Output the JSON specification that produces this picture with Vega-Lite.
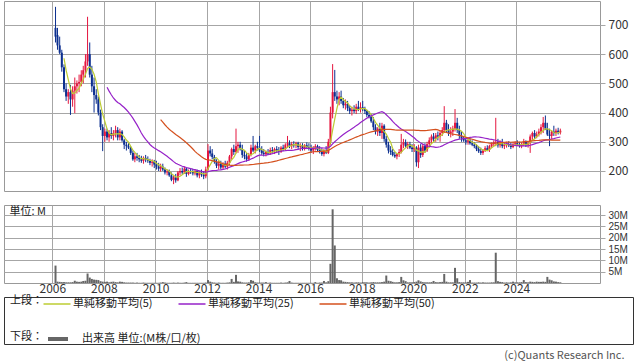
{
"$schema": "https://vega.github.io/schema/vega-lite/v6.json",
"padding": {"left": 3, "top": 0, "right": 0, "bottom": 0},
"background": "white",
"config": {
  "font": "Noto Sans CJK JP",
  "view": {"stroke": "#999999", "strokeWidth": 1},
  "axis": {"gridColor": "#a6a6a6", "gridWidth": 1, "labelColor": "#333333", "domain": false, "title": null, "labelFont": "Noto Sans CJK JP", "labelOverlap": false}
},
"title": {"text": "(c)Quants Research Inc.", "orient": "bottom", "anchor": "end", "fontSize": 11, "fontWeight": "normal", "color": "#555555", "offset": 3, "dx": -9},
"datasets": {"px": [
{"d":"2006-02-15","o":690,"h":762,"l":640,"c":660,"v":7.7},
{"d":"2006-03-15","o":665,"h":690,"l":615,"c":630,"v":0.6},
{"d":"2006-04-15","o":630,"h":660,"l":600,"c":605,"v":0.5},
{"d":"2006-05-15","o":605,"h":615,"l":540,"c":555,"v":0.4},
{"d":"2006-06-15","o":555,"h":565,"l":470,"c":480,"v":0.4},
{"d":"2006-07-15","o":480,"h":500,"l":440,"c":455,"v":0.3},
{"d":"2006-08-15","o":455,"h":480,"l":430,"c":470,"v":0.3},
{"d":"2006-09-15","o":470,"h":495,"l":392,"c":445,"v":0.3},
{"d":"2006-10-15","o":445,"h":490,"l":420,"c":475,"v":0.4},
{"d":"2006-11-15","o":475,"h":520,"l":398,"c":490,"v":1.0},
{"d":"2006-12-15","o":490,"h":510,"l":465,"c":500,"v":0.6},
{"d":"2007-01-15","o":500,"h":530,"l":470,"c":505,"v":0.5},
{"d":"2007-02-15","o":505,"h":545,"l":490,"c":530,"v":0.6},
{"d":"2007-03-15","o":530,"h":560,"l":500,"c":545,"v":0.9},
{"d":"2007-04-15","o":545,"h":600,"l":520,"c":575,"v":1.0},
{"d":"2007-05-15","o":575,"h":728,"l":560,"c":600,"v":4.2},
{"d":"2007-06-15","o":600,"h":640,"l":520,"c":530,"v":2.4},
{"d":"2007-07-15","o":530,"h":560,"l":470,"c":490,"v":1.8},
{"d":"2007-08-15","o":490,"h":520,"l":400,"c":460,"v":1.5},
{"d":"2007-09-15","o":460,"h":480,"l":430,"c":445,"v":1.4},
{"d":"2007-10-15","o":445,"h":455,"l":390,"c":400,"v":1.3},
{"d":"2007-11-15","o":400,"h":410,"l":340,"c":350,"v":0.8},
{"d":"2007-12-15","o":350,"h":360,"l":268,"c":320,"v":0.6},
{"d":"2008-01-15","o":320,"h":345,"l":300,"c":335,"v":0.5},
{"d":"2008-02-15","o":335,"h":345,"l":305,"c":315,"v":0.6},
{"d":"2008-03-15","o":315,"h":340,"l":300,"c":330,"v":0.3},
{"d":"2008-04-15","o":330,"h":350,"l":310,"c":320,"v":0.5},
{"d":"2008-05-15","o":320,"h":340,"l":305,"c":330,"v":0.6},
{"d":"2008-06-15","o":330,"h":355,"l":315,"c":340,"v":0.4},
{"d":"2008-07-15","o":340,"h":350,"l":305,"c":315,"v":0.3},
{"d":"2008-08-15","o":315,"h":345,"l":305,"c":335,"v":0.6},
{"d":"2008-09-15","o":335,"h":340,"l":300,"c":305,"v":0.5},
{"d":"2008-10-15","o":305,"h":310,"l":275,"c":290,"v":0.3},
{"d":"2008-11-15","o":290,"h":300,"l":270,"c":285,"v":0.2},
{"d":"2008-12-15","o":285,"h":295,"l":275,"c":280,"v":0.2},
{"d":"2009-01-15","o":280,"h":285,"l":255,"c":262,"v":0.2},
{"d":"2009-02-15","o":262,"h":270,"l":235,"c":240,"v":0.2},
{"d":"2009-03-15","o":240,"h":262,"l":230,"c":250,"v":0.1},
{"d":"2009-04-15","o":250,"h":262,"l":235,"c":245,"v":0.2},
{"d":"2009-05-15","o":245,"h":255,"l":230,"c":240,"v":0.1},
{"d":"2009-06-15","o":240,"h":252,"l":228,"c":235,"v":0.1},
{"d":"2009-07-15","o":235,"h":250,"l":225,"c":245,"v":0.2},
{"d":"2009-08-15","o":245,"h":255,"l":230,"c":240,"v":0.1},
{"d":"2009-09-15","o":240,"h":250,"l":228,"c":235,"v":0.1},
{"d":"2009-10-15","o":235,"h":242,"l":220,"c":228,"v":0.1},
{"d":"2009-11-15","o":228,"h":240,"l":215,"c":232,"v":0.1},
{"d":"2009-12-15","o":232,"h":238,"l":210,"c":222,"v":0.1},
{"d":"2010-01-15","o":222,"h":235,"l":205,"c":215,"v":0.1},
{"d":"2010-02-15","o":215,"h":228,"l":200,"c":208,"v":0.1},
{"d":"2010-03-15","o":208,"h":225,"l":198,"c":215,"v":0.2},
{"d":"2010-04-15","o":215,"h":225,"l":200,"c":205,"v":0.4},
{"d":"2010-05-15","o":205,"h":212,"l":188,"c":195,"v":0.2},
{"d":"2010-06-15","o":195,"h":205,"l":185,"c":198,"v":0.1},
{"d":"2010-07-15","o":198,"h":205,"l":180,"c":185,"v":0.1},
{"d":"2010-08-15","o":185,"h":195,"l":165,"c":170,"v":0.1},
{"d":"2010-09-15","o":170,"h":185,"l":155,"c":178,"v":0.2},
{"d":"2010-10-15","o":178,"h":190,"l":160,"c":168,"v":0.1},
{"d":"2010-11-15","o":168,"h":200,"l":165,"c":195,"v":0.2},
{"d":"2010-12-15","o":195,"h":210,"l":185,"c":200,"v":0.1},
{"d":"2011-01-15","o":200,"h":212,"l":188,"c":195,"v":0.1},
{"d":"2011-02-15","o":195,"h":215,"l":190,"c":208,"v":0.2},
{"d":"2011-03-15","o":208,"h":212,"l":180,"c":190,"v":0.4},
{"d":"2011-04-15","o":190,"h":205,"l":185,"c":200,"v":0.1},
{"d":"2011-05-15","o":200,"h":210,"l":190,"c":198,"v":0.1},
{"d":"2011-06-15","o":198,"h":208,"l":185,"c":192,"v":0.1},
{"d":"2011-07-15","o":192,"h":205,"l":185,"c":200,"v":0.1},
{"d":"2011-08-15","o":200,"h":205,"l":178,"c":185,"v":0.1},
{"d":"2011-09-15","o":185,"h":200,"l":175,"c":195,"v":0.1},
{"d":"2011-10-15","o":195,"h":205,"l":180,"c":188,"v":0.1},
{"d":"2011-11-15","o":188,"h":200,"l":172,"c":182,"v":0.1},
{"d":"2011-12-15","o":182,"h":215,"l":175,"c":205,"v":0.2},
{"d":"2012-01-15","o":205,"h":292,"l":200,"c":270,"v":1.3},
{"d":"2012-02-15","o":270,"h":285,"l":250,"c":260,"v":0.6},
{"d":"2012-03-15","o":260,"h":275,"l":240,"c":248,"v":0.3},
{"d":"2012-04-15","o":248,"h":255,"l":225,"c":232,"v":0.2},
{"d":"2012-05-15","o":232,"h":240,"l":210,"c":218,"v":0.1},
{"d":"2012-06-15","o":218,"h":235,"l":205,"c":225,"v":0.2},
{"d":"2012-07-15","o":225,"h":235,"l":205,"c":212,"v":0.1},
{"d":"2012-08-15","o":212,"h":230,"l":205,"c":225,"v":0.1},
{"d":"2012-09-15","o":225,"h":235,"l":210,"c":215,"v":0.1},
{"d":"2012-10-15","o":215,"h":235,"l":205,"c":228,"v":0.2},
{"d":"2012-11-15","o":228,"h":255,"l":220,"c":250,"v":0.3},
{"d":"2012-12-15","o":250,"h":280,"l":240,"c":275,"v":1.8},
{"d":"2013-01-15","o":275,"h":290,"l":255,"c":265,"v":0.5},
{"d":"2013-02-15","o":265,"h":345,"l":260,"c":285,"v":3.6},
{"d":"2013-03-15","o":285,"h":300,"l":262,"c":290,"v":0.7},
{"d":"2013-04-15","o":290,"h":300,"l":270,"c":275,"v":0.6},
{"d":"2013-05-15","o":275,"h":290,"l":245,"c":255,"v":0.3},
{"d":"2013-06-15","o":255,"h":270,"l":240,"c":250,"v":0.2},
{"d":"2013-07-15","o":250,"h":262,"l":232,"c":240,"v":0.2},
{"d":"2013-08-15","o":240,"h":262,"l":235,"c":255,"v":0.3},
{"d":"2013-09-15","o":255,"h":290,"l":250,"c":280,"v":1.3},
{"d":"2013-10-15","o":280,"h":320,"l":265,"c":270,"v":1.0},
{"d":"2013-11-15","o":270,"h":290,"l":260,"c":285,"v":0.3},
{"d":"2013-12-15","o":285,"h":300,"l":270,"c":280,"v":0.2},
{"d":"2014-01-15","o":280,"h":320,"l":265,"c":270,"v":0.2},
{"d":"2014-02-15","o":270,"h":285,"l":255,"c":262,"v":0.2},
{"d":"2014-03-15","o":262,"h":275,"l":250,"c":258,"v":0.2},
{"d":"2014-04-15","o":258,"h":270,"l":250,"c":265,"v":0.4},
{"d":"2014-05-15","o":265,"h":275,"l":255,"c":260,"v":0.1},
{"d":"2014-06-15","o":260,"h":280,"l":255,"c":272,"v":0.2},
{"d":"2014-07-15","o":272,"h":282,"l":262,"c":268,"v":0.1},
{"d":"2014-08-15","o":268,"h":280,"l":258,"c":275,"v":0.1},
{"d":"2014-09-15","o":275,"h":285,"l":265,"c":270,"v":0.1},
{"d":"2014-10-15","o":270,"h":282,"l":255,"c":265,"v":0.1},
{"d":"2014-11-15","o":265,"h":285,"l":262,"c":280,"v":0.2},
{"d":"2014-12-15","o":280,"h":290,"l":268,"c":275,"v":0.1},
{"d":"2015-01-15","o":275,"h":295,"l":270,"c":290,"v":0.2},
{"d":"2015-02-15","o":290,"h":320,"l":280,"c":295,"v":0.3},
{"d":"2015-03-15","o":295,"h":305,"l":278,"c":285,"v":0.9},
{"d":"2015-04-15","o":285,"h":300,"l":275,"c":292,"v":0.2},
{"d":"2015-05-15","o":292,"h":302,"l":280,"c":288,"v":0.1},
{"d":"2015-06-15","o":288,"h":300,"l":278,"c":295,"v":0.1},
{"d":"2015-07-15","o":295,"h":300,"l":275,"c":282,"v":0.1},
{"d":"2015-08-15","o":282,"h":295,"l":268,"c":285,"v":0.1},
{"d":"2015-09-15","o":285,"h":295,"l":270,"c":278,"v":0.1},
{"d":"2015-10-15","o":278,"h":292,"l":270,"c":288,"v":0.1},
{"d":"2015-11-15","o":288,"h":298,"l":275,"c":282,"v":0.1},
{"d":"2015-12-15","o":282,"h":295,"l":270,"c":278,"v":0.1},
{"d":"2016-01-15","o":278,"h":290,"l":262,"c":270,"v":0.1},
{"d":"2016-02-15","o":270,"h":285,"l":258,"c":280,"v":0.1},
{"d":"2016-03-15","o":280,"h":292,"l":270,"c":285,"v":0.4},
{"d":"2016-04-15","o":285,"h":290,"l":265,"c":272,"v":0.1},
{"d":"2016-05-15","o":272,"h":285,"l":260,"c":265,"v":0.2},
{"d":"2016-06-15","o":265,"h":278,"l":252,"c":258,"v":0.2},
{"d":"2016-07-15","o":258,"h":275,"l":250,"c":268,"v":0.9},
{"d":"2016-08-15","o":268,"h":285,"l":258,"c":262,"v":0.3},
{"d":"2016-09-15","o":262,"h":310,"l":258,"c":300,"v":0.8},
{"d":"2016-10-15","o":300,"h":420,"l":290,"c":400,"v":8.5},
{"d":"2016-11-15","o":400,"h":566,"l":380,"c":470,"v":32.6},
{"d":"2016-12-15","o":470,"h":546,"l":440,"c":455,"v":16.6},
{"d":"2017-01-15","o":455,"h":475,"l":430,"c":445,"v":2.1},
{"d":"2017-02-15","o":445,"h":470,"l":425,"c":455,"v":1.3},
{"d":"2017-03-15","o":455,"h":475,"l":430,"c":440,"v":1.2},
{"d":"2017-04-15","o":440,"h":450,"l":415,"c":425,"v":0.6},
{"d":"2017-05-15","o":425,"h":445,"l":410,"c":430,"v":0.5},
{"d":"2017-06-15","o":430,"h":440,"l":405,"c":415,"v":0.4},
{"d":"2017-07-15","o":415,"h":425,"l":395,"c":405,"v":0.3},
{"d":"2017-08-15","o":405,"h":420,"l":390,"c":410,"v":0.3},
{"d":"2017-09-15","o":410,"h":425,"l":398,"c":405,"v":0.2},
{"d":"2017-10-15","o":405,"h":430,"l":395,"c":420,"v":0.3},
{"d":"2017-11-15","o":420,"h":440,"l":405,"c":412,"v":0.3},
{"d":"2017-12-15","o":412,"h":435,"l":400,"c":418,"v":0.2},
{"d":"2018-01-15","o":418,"h":440,"l":405,"c":412,"v":0.4},
{"d":"2018-02-15","o":412,"h":420,"l":395,"c":405,"v":0.3},
{"d":"2018-03-15","o":405,"h":410,"l":385,"c":392,"v":0.3},
{"d":"2018-04-15","o":392,"h":405,"l":380,"c":385,"v":0.2},
{"d":"2018-05-15","o":385,"h":395,"l":365,"c":370,"v":0.3},
{"d":"2018-06-15","o":370,"h":385,"l":340,"c":350,"v":0.4},
{"d":"2018-07-15","o":350,"h":360,"l":325,"c":335,"v":0.3},
{"d":"2018-08-15","o":335,"h":350,"l":320,"c":345,"v":0.3},
{"d":"2018-09-15","o":345,"h":365,"l":320,"c":330,"v":0.3},
{"d":"2018-10-15","o":330,"h":365,"l":310,"c":355,"v":0.4},
{"d":"2018-11-15","o":355,"h":360,"l":300,"c":310,"v":0.6},
{"d":"2018-12-15","o":310,"h":320,"l":280,"c":290,"v":3.3},
{"d":"2019-01-15","o":290,"h":300,"l":260,"c":270,"v":1.0},
{"d":"2019-02-15","o":270,"h":285,"l":255,"c":265,"v":0.8},
{"d":"2019-03-15","o":265,"h":275,"l":250,"c":255,"v":0.5},
{"d":"2019-04-15","o":255,"h":265,"l":245,"c":250,"v":0.3},
{"d":"2019-05-15","o":250,"h":262,"l":240,"c":258,"v":0.3},
{"d":"2019-06-15","o":258,"h":275,"l":248,"c":265,"v":0.4},
{"d":"2019-07-15","o":265,"h":327,"l":260,"c":290,"v":2.7},
{"d":"2019-08-15","o":290,"h":310,"l":278,"c":298,"v":1.2},
{"d":"2019-09-15","o":298,"h":308,"l":280,"c":285,"v":0.8},
{"d":"2019-10-15","o":285,"h":300,"l":275,"c":292,"v":0.3},
{"d":"2019-11-15","o":292,"h":300,"l":275,"c":280,"v":0.3},
{"d":"2019-12-15","o":280,"h":292,"l":265,"c":275,"v":0.3},
{"d":"2020-01-15","o":275,"h":292,"l":265,"c":280,"v":0.4},
{"d":"2020-02-15","o":280,"h":285,"l":215,"c":230,"v":0.6},
{"d":"2020-03-15","o":230,"h":290,"l":210,"c":280,"v":1.2},
{"d":"2020-04-15","o":280,"h":292,"l":245,"c":255,"v":0.7},
{"d":"2020-05-15","o":255,"h":292,"l":248,"c":285,"v":0.4},
{"d":"2020-06-15","o":285,"h":295,"l":262,"c":270,"v":0.3},
{"d":"2020-07-15","o":270,"h":300,"l":265,"c":292,"v":0.3},
{"d":"2020-08-15","o":292,"h":315,"l":285,"c":305,"v":0.3},
{"d":"2020-09-15","o":305,"h":325,"l":295,"c":318,"v":0.4},
{"d":"2020-10-15","o":318,"h":330,"l":300,"c":310,"v":0.9},
{"d":"2020-11-15","o":310,"h":330,"l":300,"c":322,"v":0.4},
{"d":"2020-12-15","o":322,"h":335,"l":305,"c":318,"v":0.3},
{"d":"2021-01-15","o":318,"h":340,"l":300,"c":330,"v":0.4},
{"d":"2021-02-15","o":330,"h":350,"l":320,"c":340,"v":0.5},
{"d":"2021-03-15","o":340,"h":422,"l":330,"c":365,"v":4.0},
{"d":"2021-04-15","o":365,"h":375,"l":330,"c":340,"v":0.6},
{"d":"2021-05-15","o":340,"h":360,"l":320,"c":330,"v":0.3},
{"d":"2021-06-15","o":330,"h":350,"l":315,"c":335,"v":0.3},
{"d":"2021-07-15","o":335,"h":355,"l":320,"c":345,"v":0.3},
{"d":"2021-08-15","o":345,"h":412,"l":335,"c":365,"v":6.7},
{"d":"2021-09-15","o":365,"h":382,"l":330,"c":340,"v":2.1},
{"d":"2021-10-15","o":340,"h":355,"l":310,"c":320,"v":0.4},
{"d":"2021-11-15","o":320,"h":335,"l":300,"c":312,"v":0.3},
{"d":"2021-12-15","o":312,"h":320,"l":300,"c":305,"v":0.3},
{"d":"2022-01-15","o":305,"h":315,"l":290,"c":300,"v":0.3},
{"d":"2022-02-15","o":300,"h":315,"l":290,"c":305,"v":0.5},
{"d":"2022-03-15","o":305,"h":312,"l":290,"c":295,"v":1.3},
{"d":"2022-04-15","o":295,"h":305,"l":285,"c":290,"v":0.2},
{"d":"2022-05-15","o":290,"h":298,"l":278,"c":285,"v":0.2},
{"d":"2022-06-15","o":285,"h":292,"l":268,"c":275,"v":0.2},
{"d":"2022-07-15","o":275,"h":285,"l":262,"c":268,"v":0.3},
{"d":"2022-08-15","o":268,"h":280,"l":255,"c":262,"v":0.2},
{"d":"2022-09-15","o":262,"h":275,"l":255,"c":270,"v":0.3},
{"d":"2022-10-15","o":270,"h":285,"l":265,"c":278,"v":0.2},
{"d":"2022-11-15","o":278,"h":288,"l":268,"c":272,"v":0.2},
{"d":"2022-12-15","o":272,"h":290,"l":265,"c":285,"v":0.2},
{"d":"2023-01-15","o":285,"h":298,"l":278,"c":292,"v":0.3},
{"d":"2023-02-15","o":292,"h":305,"l":285,"c":298,"v":0.3},
{"d":"2023-03-15","o":298,"h":382,"l":285,"c":300,"v":13.4},
{"d":"2023-04-15","o":300,"h":310,"l":280,"c":288,"v":0.8},
{"d":"2023-05-15","o":288,"h":305,"l":280,"c":295,"v":0.5},
{"d":"2023-06-15","o":295,"h":310,"l":278,"c":285,"v":0.4},
{"d":"2023-07-15","o":285,"h":298,"l":275,"c":290,"v":0.2},
{"d":"2023-08-15","o":290,"h":300,"l":280,"c":292,"v":0.3},
{"d":"2023-09-15","o":292,"h":302,"l":282,"c":288,"v":0.2},
{"d":"2023-10-15","o":288,"h":298,"l":275,"c":282,"v":0.3},
{"d":"2023-11-15","o":282,"h":298,"l":278,"c":292,"v":0.6},
{"d":"2023-12-15","o":292,"h":302,"l":285,"c":295,"v":0.3},
{"d":"2024-01-15","o":295,"h":305,"l":285,"c":290,"v":0.3},
{"d":"2024-02-15","o":290,"h":300,"l":280,"c":285,"v":0.3},
{"d":"2024-03-15","o":285,"h":298,"l":278,"c":292,"v":0.4},
{"d":"2024-04-15","o":292,"h":310,"l":285,"c":300,"v":1.3},
{"d":"2024-05-15","o":300,"h":305,"l":282,"c":288,"v":0.4},
{"d":"2024-06-15","o":288,"h":300,"l":280,"c":295,"v":0.3},
{"d":"2024-07-15","o":295,"h":325,"l":262,"c":318,"v":0.6},
{"d":"2024-08-15","o":318,"h":335,"l":305,"c":330,"v":0.5},
{"d":"2024-09-15","o":330,"h":340,"l":310,"c":318,"v":0.4},
{"d":"2024-10-15","o":318,"h":335,"l":312,"c":325,"v":0.6},
{"d":"2024-11-15","o":325,"h":345,"l":318,"c":335,"v":0.5},
{"d":"2024-12-15","o":335,"h":360,"l":325,"c":350,"v":0.5},
{"d":"2025-01-15","o":350,"h":385,"l":330,"c":365,"v":0.6},
{"d":"2025-02-15","o":365,"h":390,"l":340,"c":345,"v":0.5},
{"d":"2025-03-15","o":345,"h":365,"l":320,"c":325,"v":2.7},
{"d":"2025-04-15","o":325,"h":345,"l":285,"c":320,"v":1.5},
{"d":"2025-05-15","o":320,"h":340,"l":310,"c":335,"v":1.2},
{"d":"2025-06-15","o":335,"h":355,"l":320,"c":330,"v":0.7},
{"d":"2025-07-15","o":330,"h":345,"l":320,"c":338,"v":0.6},
{"d":"2025-08-15","o":338,"h":348,"l":325,"c":332,"v":0.4},
{"d":"2025-09-15","o":332,"h":345,"l":325,"c":338,"v":0.3}
]},
"vconcat": [
  {
    "spacing": 12,
    "vconcat": [
      {
        "width": 596, "height": 190,
        "data": {"name": "px"},
        "transform": [
          {"window": [{"op": "mean", "field": "c", "as": "m5"}, {"op": "count", "as": "n5"}], "frame": [-4, 0], "sort": [{"field": "d"}]},
          {"window": [{"op": "mean", "field": "c", "as": "m25"}, {"op": "count", "as": "n25"}], "frame": [-24, 0], "sort": [{"field": "d"}]},
          {"window": [{"op": "mean", "field": "c", "as": "m50"}, {"op": "count", "as": "n50"}], "frame": [-49, 0], "sort": [{"field": "d"}]}
        ],
        "encoding": {
          "x": {"field": "d", "type": "temporal",
            "scale": {"type": "utc", "domain": [{"year": 2004, "month": 4, "date": 27, "utc": true}, {"year": 2027, "month": 1, "date": 19, "utc": true}]},
            "axis": {"grid": true, "labels": false, "ticks": false,
              "values": [{"year": 2006, "utc": true}, {"year": 2008, "utc": true}, {"year": 2010, "utc": true}, {"year": 2012, "utc": true}, {"year": 2014, "utc": true}, {"year": 2016, "utc": true}, {"year": 2018, "utc": true}, {"year": 2020, "utc": true}, {"year": 2022, "utc": true}, {"year": 2024, "utc": true}]}}
        },
        "layer": [
          {"mark": {"type": "rule", "strokeWidth": 1},
           "encoding": {
             "y": {"field": "l", "type": "quantitative", "scale": {"domain": [131.5, 782], "nice": false, "zero": false},
               "axis": {"orient": "right", "values": [200, 300, 400, 500, 600, 700], "grid": true, "tickSize": 5, "tickColor": "#a6a6a6", "labelPadding": 3, "labelFontSize": 12}},
             "y2": {"field": "h"},
             "color": {"condition": {"test": "datum.c >= datum.o", "value": "#e5163f"}, "value": "#0c2f8f"}}},
          {"mark": {"type": "bar", "size": 2},
           "encoding": {
             "y": {"field": "o", "type": "quantitative", "scale": {"domain": [131.5, 782], "nice": false, "zero": false},
               "axis": {"orient": "right", "values": [200, 300, 400, 500, 600, 700], "grid": true, "tickSize": 5, "tickColor": "#a6a6a6", "labelPadding": 3, "labelFontSize": 12}},
             "y2": {"field": "c"},
             "color": {"condition": {"test": "datum.c >= datum.o", "value": "#e5163f"}, "value": "#0c2f8f"}}},
          {"transform": [{"filter": "datum.n5 >= 5"}],
           "mark": {"type": "line", "strokeWidth": 1.2},
           "encoding": {
             "y": {"field": "m5", "type": "quantitative", "scale": {"domain": [131.5, 782], "nice": false, "zero": false},
               "axis": {"orient": "right", "values": [200, 300, 400, 500, 600, 700], "grid": true, "tickSize": 5, "tickColor": "#a6a6a6", "labelPadding": 3, "labelFontSize": 12}},
             "color": {"datum": "単純移動平均(5)",
               "scale": {"domain": ["単純移動平均(5)", "単純移動平均(25)", "単純移動平均(50)"], "range": ["#bccc32", "#9622c8", "#d4501e"]},
               "legend": {"orient": "none", "legendX": 6, "legendY": 292, "direction": "horizontal", "title": "上段：", "titleOrient": "left", "titleAnchor": "middle", "titleBaseline": "middle", "titleFontSize": 11, "titleFontWeight": "normal", "titleColor": "#222222", "titlePadding": 3, "labelFontSize": 11, "labelColor": "#222222", "symbolType": "M-1.35,0H1.35", "symbolSize": 400, "symbolStrokeWidth": 1.5, "columnPadding": 22, "labelOffset": 5}}}},
          {"transform": [{"filter": "datum.n25 >= 25"}],
           "mark": {"type": "line", "strokeWidth": 1.2},
           "encoding": {
             "y": {"field": "m25", "type": "quantitative", "scale": {"domain": [131.5, 782], "nice": false, "zero": false},
               "axis": {"orient": "right", "values": [200, 300, 400, 500, 600, 700], "grid": true, "tickSize": 5, "tickColor": "#a6a6a6", "labelPadding": 3, "labelFontSize": 12}},
             "color": {"datum": "単純移動平均(25)"}}},
          {"transform": [{"filter": "datum.n50 >= 50"}],
           "mark": {"type": "line", "strokeWidth": 1.2},
           "encoding": {
             "y": {"field": "m50", "type": "quantitative", "scale": {"domain": [131.5, 782], "nice": false, "zero": false},
               "axis": {"orient": "right", "values": [200, 300, 400, 500, 600, 700], "grid": true, "tickSize": 5, "tickColor": "#a6a6a6", "labelPadding": 3, "labelFontSize": 12}},
             "color": {"datum": "単純移動平均(50)"}}}
        ]
      },
      {
        "width": 596, "height": 78,
        "data": {"name": "px"},
        "mark": {"type": "bar", "size": 2},
        "encoding": {
          "x": {"field": "d", "type": "temporal",
            "scale": {"type": "utc", "domain": [{"year": 2004, "month": 4, "date": 27, "utc": true}, {"year": 2027, "month": 1, "date": 19, "utc": true}]},
            "axis": {"grid": true, "ticks": false, "labelPadding": 0, "labelFontSize": 12, "format": "%Y", "labelFlush": false,
              "values": [{"year": 2006, "utc": true}, {"year": 2008, "utc": true}, {"year": 2010, "utc": true}, {"year": 2012, "utc": true}, {"year": 2014, "utc": true}, {"year": 2016, "utc": true}, {"year": 2018, "utc": true}, {"year": 2020, "utc": true}, {"year": 2022, "utc": true}, {"year": 2024, "utc": true}]}},
          "y": {"field": "v", "type": "quantitative", "scale": {"domain": [0, 34.5], "nice": false},
            "axis": {"orient": "right", "values": [5, 10, 15, 20, 25, 30], "labelExpr": "datum.value + 'M'", "grid": true, "tickSize": 5, "tickColor": "#a6a6a6", "labelPadding": 3, "labelFontSize": 10, "labelFont": "Liberation Sans", "labelBaseline": "middle",
              "title": "単位: M", "titleAngle": 0, "titleX": -591, "titleY": 6, "titleAlign": "left", "titleBaseline": "middle", "titleFontSize": 11, "titleFontWeight": "normal", "titleColor": "#222222"}},
          "fill": {"datum": "出来高 単位:(M株/口/枚)", "scale": {"range": ["#666666"]},
            "legend": {"orient": "none", "legendX": 6, "legendY": 326, "title": "下段：", "titleOrient": "left", "titleAnchor": "middle", "titleBaseline": "middle", "titleFontSize": 11, "titleFontWeight": "normal", "titleColor": "#222222", "titlePadding": 3, "labelFontSize": 11, "labelColor": "#222222", "symbolType": "stroke", "symbolSize": 400, "symbolStrokeWidth": 4, "symbolStrokeColor": "#666666", "labelOffset": 12}}
        }
      }
    ]
  },
  {
    "width": 629, "height": 47,
    "data": {"values": [{"k": 1}]},
    "mark": {"type": "point", "opacity": 0},
    "encoding": {},
    "view": {"stroke": "#333333"}
  }
],
"spacing": 1
}
